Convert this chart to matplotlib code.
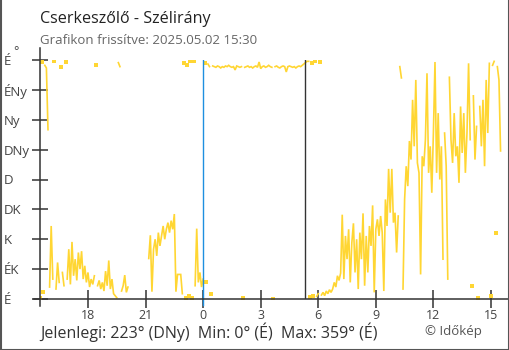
import numpy as np
import matplotlib.pyplot as plt
from matplotlib.lines import Line2D

plt.rcParams['font.family'] = ['Open Sans', 'DejaVu Sans']

W, H = 510, 350

# szélirány fokban, 5 percenként, tegnap 15:30-tól ma 15:30-ig
delutan = [2, 357, 10, 352, 348, 255, 18, 110, 30, 358, 15, 55,
           25, 350, 40, 20, 357, 30, 75, 22, 86, 35, 60, 28,
           70, 45, 72, 30, 50, 25, 40, 18, 30, 22, 35, 353,
           20, 28, 15, 25, 12, 42, 20, 58, 15, 30, 8, 5,
           2, 356, 350, 12, 20, 36, 10, 18, np.nan, np.nan, np.nan, np.nan]
este = [np.nan] * 8 + [61, 96, 11, 75,
        90, 65, 100, 80, 95, 110, 90, 105, 115, 100, 118, 105,
        128, 11, 37, 37, 37, 8, 355, 2, 352, 5, 358, 1,
        358, 20, 106, 25, 40, 18, 30, 355, 25, 354, 350, 8]
ejjel = [351, 350, 349, 351, 350, 348, 350, 349, 351, 350, 352, 350,
         349, 350, 345, 351, 350, 349, 350, 1, 349, 350, 351, 349,
         350, 348, 350, 351, 349, 357, 347, 350, 351, 349, 350, 352,
         350, 349, 0, 350, 351, 349, 348, 350, 351, 350, 342, 350,
         351, 350, 349, 350, 348, 350, 351, 350, 352, 354, 356, 358]
reggel = [358, 3, 356, 5, 359, 4, 8, 357, 6, 10, 5, 12,
          8, 14, 10, 15, 25, 18, 35, 28, 39, 127, 30, 95,
          60, 105, 25, 85, 114, 40, 90, 15, 100, 60, 129, 20,
          95, 40, 110, 80, 141, 10, 105, 120, 95, 125, 100, 12,
          150, 110, 196, 130, 196, 115, 130, 70, 125, 350, 333, 15]
delelott = [150, 200, 170, 238, 210, 300, 230, 330, 205, 190, 37, 215,
            200, 240, 340, 190, 230, 160, 250, 357, 190, 280, 180, 230,
            60, 250, 200, 30, 334, 240, 205, 280, 215, 230, 175, 290,
            220, 280, 190, 250, 355, 240, 20, 306, 210, 260, 1, 290,
            230, 300, 200, 330, 250, 355, 5, 352, 358, 100, 350, 330, 223]

irany = np.array(delutan + este + ejjel + reggel + delelott, dtype=float)
ido = 15.5 + np.arange(len(irany)) * 5 / 60

iranyok = ['É', 'ÉK', 'K', 'DK', 'D', 'DNy', 'Ny', 'ÉNy', 'É']
ora_tick = [18, 21, 24, 27, 30, 33, 36, 39]
ora_cimke = ['18', '21', '0', '3', '6', '9', '12', '15']
ejfel = 24.0
napkelte = 29 + 20 / 60

sarga = '#FFD633'
sotet = '#333333'


def px(x, y):
    return x / W, 1 - y / H


# vonal megszakítása, ha 180 foknál nagyobb az ugrás (átfordulás északon)
xs, ys = [], []
for k in range(len(irany)):
    if k > 0 and abs(irany[k] - irany[k - 1]) > 180:
        xs.append(np.nan)
        ys.append(np.nan)
    xs.append(ido[k])
    ys.append(irany[k])


def kapcs(a, b):
    return not np.isnan(a) and not np.isnan(b) and abs(a - b) <= 180


n = len(irany)
magany = [k for k in range(n) if not np.isnan(irany[k])
          and not (k > 0 and kapcs(irany[k - 1], irany[k]))
          and not (k < n - 1 and kapcs(irany[k], irany[k + 1]))]

fig = plt.figure(figsize=(W / 100, H / 100), dpi=100)
l, b = px(40, 299)
r, t = px(508, 60)
ax = fig.add_axes([l, b, r - l, t - b])

ax.plot(xs, ys, color=sarga, lw=1.2, solid_joinstyle='miter')
ax.plot(ido[magany], irany[magany], 's', color=sarga, ms=3.2, mew=0)

ax.set_xlim(15.5, 15.5 + 468 / 19.19)
ax.set_ylim(0, 360)
ax.plot([ejfel, ejfel], [0, 360], color='#1e8fe0', lw=1.0)
ax.plot([ejfel, ejfel], [0, -6 * 1.5], color='#1e8fe0', lw=1.0, clip_on=False)
ax.plot([napkelte, napkelte], [0, 360], color=sotet, lw=1.0)

for s in ax.spines.values():
    s.set_visible(False)

ax.set_yticks(np.arange(0, 361, 45))
ax.set_yticklabels(iranyok)
ax.set_xticks(ora_tick)
ax.set_xticklabels(ora_cimke)
ax.tick_params(axis='y', direction='inout', length=12, width=1.1, color=sotet,
               labelsize=9.5, labelcolor='#444', pad=20)
ax.tick_params(axis='x', direction='inout', length=13, width=1.1, color=sotet,
               labelsize=9, labelcolor='#444', pad=1)
for lab in ax.get_yticklabels():
    lab.set_horizontalalignment('left')

# tengelyvonalak, kicsit túlnyúlva
fig.add_artist(Line2D(*zip(px(40, 48), px(40, 306)), color=sotet, lw=1.1))
fig.add_artist(Line2D(*zip(px(34, 299), px(508, 299)), color=sotet, lw=1.1))

# keret
fig.add_artist(Line2D(*zip(px(0.5, 0), px(0.5, 349.5)), color='#555', lw=1.5))
fig.add_artist(Line2D(*zip(px(0.5, 349.5), px(509.5, 349.5)), color='#555', lw=1.5))
fig.add_artist(Line2D(*zip(px(509.5, 0), px(509.5, 349.5)), color='#555', lw=1.5))

fig.text(*px(40, 19), 'Cserkeszőlő - Szélirány', fontsize=11.6, color='#222', va='center')
fig.text(*px(40, 40), 'Grafikon frissítve: 2025.05.02 15:30', fontsize=9.5, color='#666', va='center')
fig.text(*px(13, 52), '°', fontsize=9, color='#444', va='center')
fig.text(*px(40, 332), 'Jelenlegi: 223° (DNy)  Min: 0° (É)  Max: 359° (É)',
         fontsize=11.5, color='#333', va='center')
fig.text(*px(425, 331), '© Időkép', fontsize=9.5, color='#555', va='center')

fig.savefig('out.png', dpi=100)
